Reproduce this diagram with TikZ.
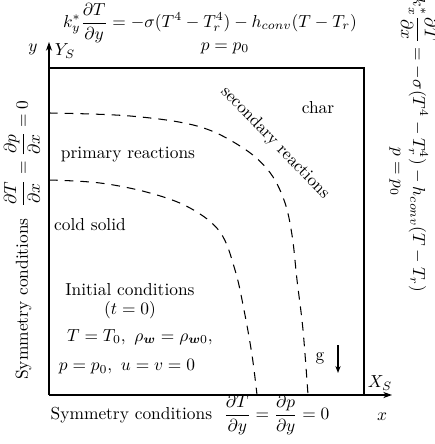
\documentclass[tikz,border=0pt]{standalone}
\usepackage{amsmath}
\usetikzlibrary{arrows.meta}
\begin{document}
\begin{tikzpicture}[x=0.575pt,y=-0.575pt,
  lbl/.style={inner sep=0pt},
  front/.style={dash pattern=on 5pt off 4pt, line width=0.6pt},
  axis/.style={line width=1pt,-{Stealth[length=5pt,width=3.5pt]}},
  boxline/.style={line width=0.8pt}]
\useasboundingbox (0,0) rectangle (434,444);
% frame
\coordinate (O) at (49,395);
\coordinate (TL) at (49,68);
\coordinate (TR) at (364,68);
\coordinate (BR) at (364,395);
\coordinate (yend) at (49,42);
\coordinate (xend) at (392,395);
\draw[boxline] (TL) -- (TR) -- (BR);
\draw[axis] (O) -- (yend);
\draw[axis] (O) -- (xend);
% fronts
\draw[front] plot[smooth,tension=0.6] coordinates {(49,113) (130,116) (197,126) (240,146) (268,170) (284,200) (292,235) (297,280) (303,330) (308,395)};
\draw[front] plot[smooth,tension=0.6] coordinates {(49,180) (100,183) (150,193) (190,208) (220,232) (235,270) (244,310) (252,355) (257,395)};
% axis labels
\node[lbl] (ylab) at (33,49) {$y$};
\node[lbl] (YS) at (65,51) {$Y_S$};
\node[lbl] (XS) at (380,383) {$X_S$};
\node[lbl] (xlab) at (382,417) {$x$};
% region labels
\node[lbl] (char) at (318,108) {char};
\node[lbl,rotate=-46] (sec) at (275,143) {secondary reactions};
\node[lbl] (prim) at (128,155) {primary reactions};
\node[lbl] (cold) at (90,225) {cold solid};
\node[lbl] (ic) at (130,290) {Initial conditions};
\node[lbl] (t0) at (130,310) {$(t=0)$};
\node[lbl] (TT0) at (140,337) {$T=T_0,\ \rho_{\boldsymbol{w}}=\rho_{\boldsymbol{w}0},$};
\node[lbl] (pp0) at (127,367) {$p=p_0,\ u=v=0$};
\node[lbl] (g) at (320,358) {g};
\coordinate (ga) at (338,345);
\coordinate (gb) at (338,373);
\draw[line width=0.7pt,-{Stealth[length=4pt,width=3pt]}] (ga) -- (gb);
% boundary conditions
\node[lbl] (topeq) at (210,23) {$\displaystyle k_y^*\frac{\partial T}{\partial y}=-\sigma(T^4-T_r^4)-h_{conv}(T-T_r)$};
\node[lbl] (topp) at (225,48) {$p=p_0$};
\node[lbl,rotate=-90] (righteq) at (419,145) {$\displaystyle k_x^*\frac{\partial T}{\partial x}=-\sigma(T^4-T_r^4)-h_{conv}(T-T_r)$};
\node[lbl,rotate=-90] (rightp) at (395,172) {$p=p_0$};
\node[lbl,rotate=90] (lefteq) at (22,240) {Symmetry conditions\ \ $\displaystyle \frac{\partial T}{\partial x}=\frac{\partial p}{\partial x}=0$};
\node[lbl] (boteq) at (190,415) {Symmetry conditions\ \ $\displaystyle \frac{\partial T}{\partial y}=\frac{\partial p}{\partial y}=0$};
\end{tikzpicture}
\end{document}
